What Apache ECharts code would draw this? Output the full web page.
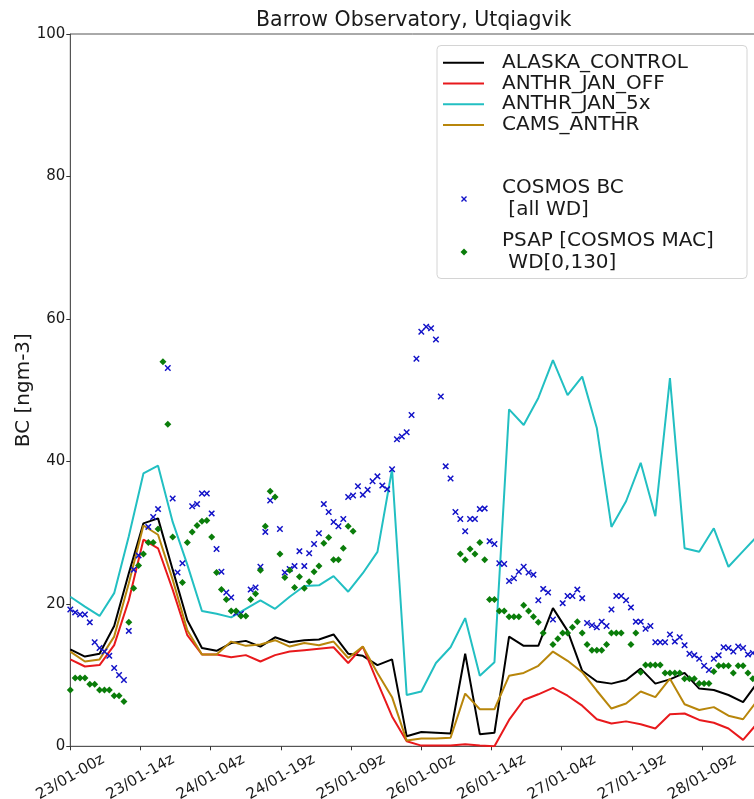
<!DOCTYPE html>
<html>
<head>
<meta charset="utf-8">
<script src="https://cdn.jsdelivr.net/npm/echarts@6.0.0/dist/echarts.min.js"></script>
<style>
html,body{margin:0;padding:0;background:#ffffff;}
#chart{width:754px;height:799px;}
</style>
</head>
<body>
<div id="chart"></div>
<script>
// ---------------- DATA ----------------
const chartTitle = 'Barrow Observatory, Utqiagvik';
const yAxisName = 'BC [ngm-3]';
const xTickLabels = ['23/01-00z','23/01-14z','24/01-04z','24/01-19z','25/01-09z','26/01-00z','26/01-14z','27/01-04z','27/01-19z','28/01-09z'];
const xTickStepHours = 14.4;

// model output times (hours since 23/01-00z), 3-hourly
const modelHours = [0,3,6,9,12,15,18,21,24,27,30,33,36,39,42,45,48,51,54,57,60,63,66,69,72,75,78,81,84,87,90,93,96,99,102,105,108,111,114,117,120,123,126,129,132,135,138,141];

const alaskaControl = [13.6,12.6,13.0,16.9,24.3,31.3,32.0,24.8,17.7,13.8,13.4,14.5,14.8,14.0,15.3,14.6,14.9,15.0,15.7,13.0,12.7,11.4,12.2,1.4,2.0,1.9,1.8,13.0,1.7,1.9,15.4,14.1,14.1,19.4,16.2,10.6,9.1,8.8,9.3,10.9,8.8,9.4,10.3,8.1,7.9,7.2,6.2,9.0];
const anthrJanOff = [12.2,11.2,11.4,14.2,20.5,29.0,27.8,22.0,15.6,12.9,12.9,12.5,12.8,11.9,12.8,13.3,13.5,13.7,13.9,11.7,14.0,9.0,4.2,0.7,0.1,0.1,0.1,0.3,0.1,0.0,3.7,6.5,7.3,8.2,7.1,5.7,3.8,3.2,3.5,3.1,2.5,4.5,4.6,3.7,3.3,2.5,0.9,3.3];
const anthrJan5x = [21.0,19.6,18.3,21.5,29.5,38.3,39.4,31.5,25.5,19.0,18.6,18.1,19.3,20.5,19.3,21.0,22.5,22.6,23.9,21.7,24.3,27.3,38.9,7.2,7.7,11.7,13.9,18.0,9.9,11.8,47.3,45.1,48.9,54.2,49.3,51.9,44.7,30.8,34.4,39.8,32.3,51.7,27.8,27.3,30.6,25.2,27.4,29.6];
const camsAnthr = [13.3,11.9,12.2,15.4,22.9,31.0,29.7,23.4,16.3,12.9,12.9,14.7,14.1,14.3,14.9,14.0,14.5,14.2,14.7,12.4,14.0,10.3,6.9,0.8,1.1,1.1,1.2,7.4,5.2,5.2,9.9,10.3,11.3,13.3,12.0,10.4,7.8,5.3,6.0,7.7,6.9,9.5,5.9,5.1,5.5,4.3,3.8,6.5];

// hourly observations; array index = hour since 23/01-00z, null = missing
const cosmosBC = [
 19.2,18.8,18.5,18.5,17.4,14.6,13.8,13.3,12.7,11.0,
 10.0,9.3,16.2,24.8,26.8,null,30.8,32.2,33.3,null,
 53.1,34.8,24.4,25.7,null,33.7,34.0,35.5,35.5,32.7,
 27.7,24.5,21.6,20.9,18.7,18.6,null,22.0,22.3,25.2,
 30.1,34.5,null,30.5,24.4,24.9,25.3,27.4,25.3,27.1,
 28.4,29.9,34.0,32.9,31.5,30.9,31.9,35.0,35.2,36.5,
 35.3,36.0,37.2,37.9,36.6,36.1,38.9,43.1,43.5,44.1,
 46.5,54.4,58.2,58.9,58.7,57.1,49.1,39.3,37.6,32.9,
 31.9,30.2,31.9,31.9,33.3,33.4,28.8,28.4,25.7,25.6,
 23.2,23.6,24.5,25.2,24.4,24.1,20.5,22.1,21.6,17.8,
 null,20.1,21.1,21.1,22.0,20.8,17.3,17.0,16.7,17.5,
 16.9,19.2,21.1,21.1,20.5,19.5,17.5,17.5,16.5,16.9,
 14.6,14.6,14.6,15.7,14.7,15.3,14.2,13.0,12.8,12.3,
 11.3,10.7,12.3,12.8,13.9,13.8,13.3,14.0,13.8,12.9,
 13.1
];
const psapBC = [
 7.9,9.6,9.6,9.6,8.7,8.7,7.9,7.9,7.9,7.1,
 7.1,6.3,17.4,22.2,25.4,27.0,28.6,28.6,30.5,54.0,
 45.2,29.4,null,23.0,28.6,30.1,31.0,31.6,31.7,29.4,
 24.4,22.0,20.6,19.0,19.0,18.3,18.3,20.6,21.4,24.7,
 30.9,35.8,35.0,27.0,23.7,24.7,22.3,23.8,22.2,23.1,
 24.5,25.3,28.5,29.3,26.2,26.2,27.8,30.9,30.2,null,
 null,null,null,null,null,null,null,null,null,null,
 null,null,null,null,null,null,null,null,null,null,
 27.0,26.2,27.7,27.0,28.6,26.2,20.6,20.6,19.0,19.0,
 18.2,18.2,18.2,19.8,19.0,18.2,17.4,15.9,null,14.3,
 15.1,15.9,15.9,16.7,17.5,15.9,14.3,13.5,13.5,13.5,
 14.3,15.9,15.9,15.9,null,14.3,15.9,10.4,11.4,11.4,
 11.4,11.4,10.3,10.3,10.3,10.3,9.5,9.5,9.5,8.8,
 8.8,8.8,10.5,11.3,11.3,11.3,10.3,11.3,11.3,10.3,
 9.5
];

const seriesNames = ['ALASKA_CONTROL','ANTHR_JAN_OFF','ANTHR_JAN_5x','CAMS_ANTHR','COSMOS BC\n [all WD]','PSAP [COSMOS MAC]\n WD[0,130]'];
const seriesColors = ['#000000','#e8191c','#22bfc2','#b8860b','#1212c8','#0a7d0a'];

// ---------------- CHART ----------------
const FONT = 'DejaVu Sans';
const TXT = '#1a1a1a';
function pairLine(hours, vals){ return hours.map((h,i)=>[h, vals[i]]); }
function pairObs(vals){ const out=[]; vals.forEach((v,i)=>{ if(v!==null) out.push([i, v]); }); return out; }
const xMarkPath = 'path://M0,1.6L1.6,0L5,3.4L8.4,0L10,1.6L6.6,5L10,8.4L8.4,10L5,6.6L1.6,10L0,8.4L3.4,5Z';

const chart = echarts.init(document.getElementById('chart'), null, {renderer:'canvas'});
const lineSeries = [alaskaControl, anthrJanOff, anthrJan5x, camsAnthr].map((vals, i) => ({
  name: seriesNames[i], type: 'line', data: pairLine(modelHours, vals),
  symbol: 'none', showSymbol: false, lineStyle: {color: seriesColors[i], width: 2},
  itemStyle: {color: seriesColors[i]}, z: 2 + i * 0.01, animation: false
}));

const option = {
  animation: false,
  backgroundColor: '#ffffff',
  textStyle: {fontFamily: FONT, color: TXT},
  title: {text: chartTitle, left: 256, top: 10, padding: 0,
    textStyle: {fontFamily: FONT, fontSize: 20.5, fontWeight: 'normal', color: TXT}},
  grid: {left: 70.3, top: 34, right: -3.7, bottom: 52.7, containLabel: false, outerBoundsMode: 'none',
    show: true, borderColor: '#555555', borderWidth: 1, backgroundColor: 'transparent'},
  xAxis: {type: 'value', min: 0, max: modelHours[modelHours.length-1], interval: xTickStepHours,
    axisLine: {show: true, lineStyle: {color: '#555555', width: 1}},
    axisTick: {show: true, inside: false, length: 4, lineStyle: {color: '#333333', width: 1}},
    splitLine: {show: false},
    axisLabel: {show: true, rotate: 30, align: 'center', verticalAlign: 'middle', margin: 31,
      fontSize: 15, color: TXT, fontFamily: FONT, showMaxLabel: false,
      formatter: function(v){ const k = Math.round(v / xTickStepHours); if (Math.abs(v - k*xTickStepHours) > 1e-6) return ''; return xTickLabels[k] || ''; }}
  },
  yAxis: {type: 'value', min: 0, max: 100, interval: 20,
    name: yAxisName, nameLocation: 'middle', nameGap: 37, nameRotate: 90, nameMoveOverlap: false,
    nameTextStyle: {fontSize: 20, color: TXT, fontFamily: FONT},
    axisLine: {show: true, lineStyle: {color: '#555555', width: 1}},
    axisTick: {show: true, inside: false, length: 4, lineStyle: {color: '#333333', width: 1}},
    splitLine: {show: false},
    axisLabel: {fontSize: 15, color: TXT, fontFamily: FONT, margin: 5}
  },
  legend: [
    {data: seriesNames.slice(0,4).map(n => ({name: n, icon: 'rect'})), orient: 'vertical', left: 443, top: 52.5, padding: 0,
      itemWidth: 41, itemHeight: 2, itemGap: 0, selectedMode: false,
      textStyle: {fontSize: 20, lineHeight: 20.7, color: TXT, fontFamily: FONT, padding: [0,0,0,13]}},
    {data: [seriesNames[4]], orient: 'vertical', left: 461, top: 171.5, padding: 0,
      itemWidth: 6, itemHeight: 6, itemGap: 0, selectedMode: false,
      textStyle: {fontSize: 20, lineHeight: 22, color: TXT, fontFamily: FONT, padding: [0,0,11,30]}},
    {data: [seriesNames[5]], orient: 'vertical', left: 460.5, top: 223.5, padding: 0,
      itemWidth: 7, itemHeight: 7, itemGap: 0, selectedMode: false,
      textStyle: {fontSize: 20, lineHeight: 22, color: TXT, fontFamily: FONT, padding: [0,0,13,29.5]}}
  ],
  graphic: [{type: 'rect', left: 436.5, top: 45, z: 3, silent: true,
    shape: {width: 310, height: 233, r: 4},
    style: {fill: 'rgba(255,255,255,0.85)', stroke: '#d4d4d4', lineWidth: 1}}],
  series: lineSeries.concat([
    {name: seriesNames[4], type: 'scatter', data: pairObs(cosmosBC), symbol: xMarkPath, symbolSize: 6.5,
      itemStyle: {color: seriesColors[4], opacity: 1}, z: 3, animation: false},
    {name: seriesNames[5], type: 'scatter', data: pairObs(psapBC), symbol: 'diamond', symbolSize: 7,
      itemStyle: {color: seriesColors[5], opacity: 1}, z: 3.1, animation: false}
  ])
};
chart.setOption(option);
</script>
</body>
</html>
